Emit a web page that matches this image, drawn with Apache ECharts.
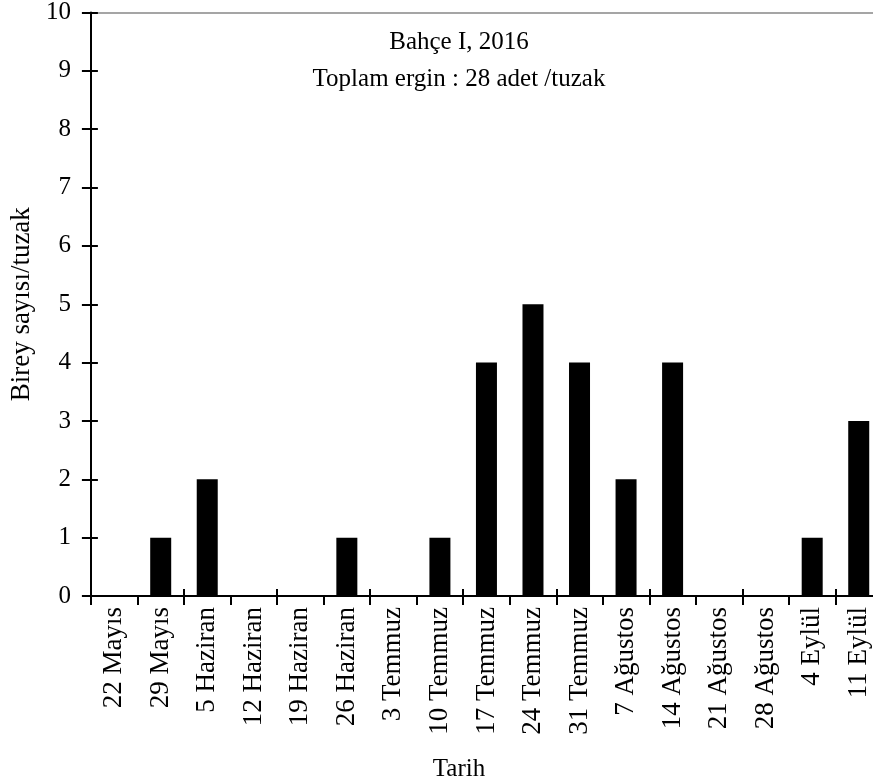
<!DOCTYPE html>
<html>
<head>
<meta charset="utf-8">
<script src="https://cdn.jsdelivr.net/npm/echarts@6/dist/echarts.min.js"></script>
<style>
  html, body { margin: 0; padding: 0; background: #fff; overflow: hidden; }
  #wrap { width: 873px; height: 783px; overflow: hidden; }
  /* canvas is a bit wider than the view: the plot runs past the right edge */
  #chart { width: 890px; height: 783px; }
</style>
</head>
<body>
<div id="wrap"><div id="chart"></div></div>
<script>
// Weekly trap counts, orchard I, 2016
const dates = ['22 Mayıs', '29 Mayıs', '5 Haziran', '12 Haziran', '19 Haziran', '26 Haziran',
  '3 Temmuz', '10 Temmuz', '17 Temmuz', '24 Temmuz', '31 Temmuz', '7 Ağustos',
  '14 Ağustos', '21 Ağustos', '28 Ağustos', '4 Eylül', '11 Eylül'];
const counts = [0, 1, 2, 0, 0, 1, 0, 1, 4, 5, 4, 2, 4, 0, 0, 1, 3];
const yTicks = [0, 1, 2, 3, 4, 5, 6, 7, 8, 9, 10];

const FONT = '"Liberation Serif", "Times New Roman", serif';
const FS = 25;      // horizontal text
const FS_ROT = 27;  // rotated text

const chart = echarts.init(document.getElementById('chart'), null, { renderer: 'canvas' });

const baseX = {
  type: 'category',
  data: dates,
  boundaryGap: true,
  splitLine: { show: false }
};
const baseY = {
  type: 'value',
  min: yTicks[0],
  max: yTicks[yTicks.length - 1],
  interval: 1,
  splitLine: { show: false }
};
const plainText = (size) => ({ fontFamily: FONT, fontSize: size, fontWeight: 'normal', color: '#000' });

chart.setOption({
  animation: false,
  backgroundColor: '#ffffff',
  textStyle: { fontFamily: FONT },
  title: [
    { text: 'Bahçe I, 2016', left: 454, top: 25, textAlign: 'center', textStyle: plainText(FS) },
    { text: 'Toplam ergin : 28 adet /tuzak', left: 454, top: 62, textAlign: 'center', textStyle: plainText(FS) },
    { text: 'Tarih', left: 454, top: 752, textAlign: 'center', textStyle: plainText(FS) }
  ],
  grid: { left: 85, right: 8, top: 12, bottom: 187, containLabel: false },
  xAxis: [
    Object.assign({}, baseX, {
      position: 'bottom',
      axisLine: { show: true, lineStyle: { color: '#000', width: 2 } },
      axisTick: { show: true, alignWithLabel: false, length: 9, lineStyle: { color: '#000', width: 2 } },
      axisLabel: { show: true, rotate: 90, margin: 11, interval: 0,
        fontFamily: FONT, fontSize: FS_ROT, color: '#000' }
    }),
    // inner half of the crossing tick marks
    Object.assign({}, baseX, {
      position: 'bottom',
      axisLine: { show: false },
      axisTick: { show: true, inside: true, length: 7, lineStyle: { color: '#000', width: 2 } },
      axisLabel: { show: false }
    }),
    // thin grey frame line along the top
    Object.assign({}, baseX, {
      position: 'top',
      axisLine: { show: true, lineStyle: { color: '#888', width: 1.5 } },
      axisTick: { show: false },
      axisLabel: { show: false }
    })
  ],
  yAxis: [
    Object.assign({}, baseY, {
      position: 'left',
      name: 'Birey sayısı/tuzak',
      nameLocation: 'middle',
      nameGap: 47,
      nameTextStyle: plainText(FS_ROT),
      axisLine: { show: true, lineStyle: { color: '#000', width: 2 } },
      axisTick: { show: true, length: 9, lineStyle: { color: '#000', width: 2 } },
      axisLabel: { show: true, margin: 20, fontFamily: FONT, fontSize: FS, color: '#000' }
    }),
    Object.assign({}, baseY, {
      position: 'left',
      axisLine: { show: false },
      axisTick: { show: true, inside: true, length: 7, lineStyle: { color: '#000', width: 2 } },
      axisLabel: { show: false }
    })
  ],
  series: [{
    type: 'bar',
    xAxisIndex: 0,
    yAxisIndex: 0,
    data: counts,
    barWidth: 21,
    itemStyle: { color: '#000' }
  }]
});
</script>
</body>
</html>
